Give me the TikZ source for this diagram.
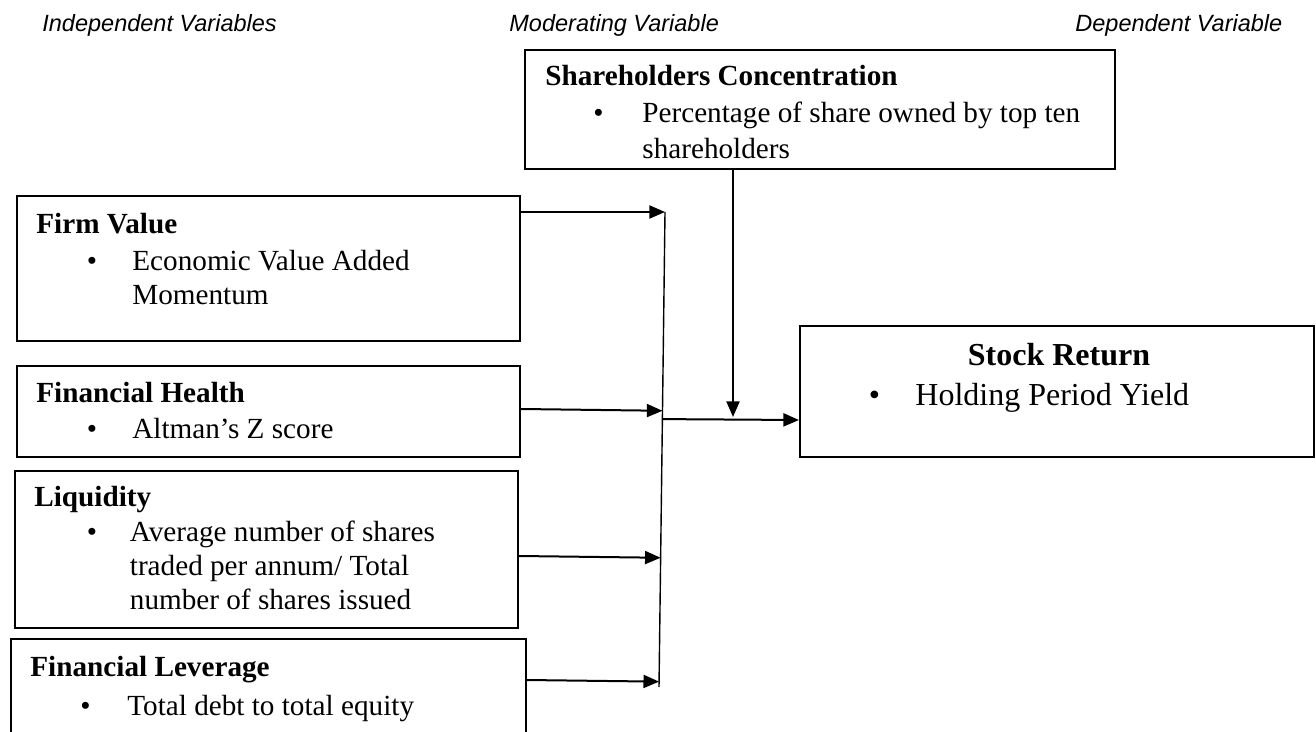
\documentclass[tikz,border=0pt]{standalone}
\usepackage{fontspec}
\setmainfont{Liberation Serif}
\setsansfont{Liberation Sans}
\usepackage{tikz}
\usetikzlibrary{arrows.meta, positioning, calc}

% bullet line: bullet, gap, then the lines of the item
\newcommand{\bline}[2]{\makebox[#1][l]{\textbullet}\begin{tabular}[t]{@{}l@{}}#2\end{tabular}}

\begin{document}
\begin{tikzpicture}[
    x=0.5pt, y=-0.5pt,
    box/.style={draw, line width=1pt, anchor=north west, inner sep=0pt},
    head/.style={anchor=base west, inner sep=0pt, font=\bfseries\fontsize{14.6}{17}\selectfont},
    item/.style={anchor=base west, inner sep=0pt, align=left, font=\fontsize{14.6}{17}\selectfont},
    varlabel/.style={anchor=base west, inner sep=0pt, font=\sffamily\itshape\fontsize{11.75}{14}\selectfont},
    arrow/.style={-{Triangle[length=7.8pt, width=6.5pt]}, line width=1pt},
    collect/.style={line width=0.7pt}
]
\useasboundingbox (0,0) rectangle (1316,732);

% Column titles
\node [varlabel] (indep) at (42,31.5) {Independent Variables};
\node [varlabel] (moder) at (509,31.5) {Moderating Variable};
\node [varlabel] (depend) at (1075,31.5) {Dependent Variable};

% Boxes
\node [box, minimum width=295pt, minimum height=59.5pt] (share) at (524,49) {};
\node [box, minimum width=251.75pt, minimum height=72.5pt] (firm) at (15.5,195.5) {};
\node [box, minimum width=251.75pt, minimum height=45.5pt] (health) at (15.5,365) {};
\node [box, minimum width=251.75pt, minimum height=78.5pt] (liquid) at (13.5,470) {};
\node [box, minimum width=257.25pt, minimum height=53.5pt] (lever) at (10,638) {};
\node [box, minimum width=257pt, minimum height=65.5pt] (stock) at (799,325) {};

% Box texts
\node [head] (share-head) at (545,86) {Shareholders Concentration};
\begin{scope}
  \clip (524,49) rectangle (1114,160.5); % last line is cut by the box
  \node [item, font=\fontsize{14.6}{18}\selectfont] (share-item) at (593,123)
      {\bline{24.5pt}{Percentage of share owned by top ten\\shareholders}};
\end{scope}

\node [head] (firm-head) at (36,234) {Firm Value};
\node [item] (firm-item) at (86.5,270.5) {\bline{22.75pt}{Economic Value Added\\Momentum}};

\node [head] (health-head) at (36,402.5) {Financial Health};
\node [item] (health-item) at (86.5,438) {\bline{22.75pt}{Altman’s Z score}};

\node [head] (liquid-head) at (34,506.5) {Liquidity};
\node [item] (liquid-item) at (86.5,541.5)
    {\bline{21.5pt}{Average number of shares\\traded per annum/ Total\\number of shares issued}};

\node [head] (lever-head) at (30,676) {Financial Leverage};
\node [item] (lever-item) at (80,715) {\bline{23.5pt}{Total debt to total equity}};

\node [anchor=base, inner sep=0pt, font=\bfseries\fontsize{16}{20}\selectfont] (stock-head) at (1059,365) {Stock Return};
\node [item, font=\fontsize{16}{20}\selectfont] (stock-item) at (868.5,405) {\bline{23.25pt}{Holding Period Yield}};

% Collector line and joins
\coordinate (ctop) at (665,212);
\coordinate (cbot) at (659,687);
\coordinate (join) at (733,420);
\draw [collect] (ctop) -- (cbot);

% Inputs
\draw [arrow] (firm.east |- ctop) -- (ctop);
\draw [arrow] ([yshift=1.25pt]health.east) -- ($(ctop)!([yshift=1.25pt]health.east)!(cbot)$);
\draw [arrow] ([yshift=-3.25pt]liquid.east) -- ($(ctop)!([yshift=-3.25pt]liquid.east)!(cbot)$);
\draw [arrow] ([yshift=6.25pt]lever.east) -- ($(ctop)!([yshift=6.25pt]lever.east)!(cbot)$);

% Output and moderator
\draw [arrow] ($(ctop)!(join)!(cbot)$) -- (stock.west |- join);
\draw [arrow] (share.south -| join) -- ([yshift=1.5pt]join);

\end{tikzpicture}
\end{document}
